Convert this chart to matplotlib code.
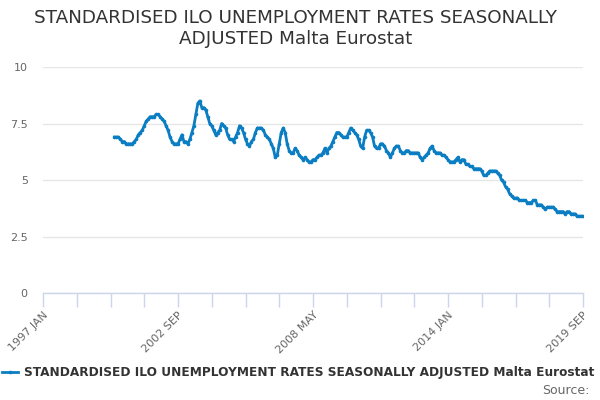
import matplotlib
matplotlib.use("Agg")
import matplotlib.pyplot as plt
from matplotlib.lines import Line2D
import numpy as np

title = "STANDARDISED ILO UNEMPLOYMENT RATES SEASONALLY\nADJUSTED Malta Eurostat"
series_name = "STANDARDISED ILO UNEMPLOYMENT RATES SEASONALLY ADJUSTED Malta Eurostat"

# monthly values, 2000 JAN .. 2019 SEP
v2000 = [6.9, 6.9, 6.9, 6.8, 6.7, 6.7, 6.6, 6.6, 6.6, 6.6, 6.7, 6.8]
v2001 = [7.0, 7.1, 7.2, 7.4, 7.6, 7.7, 7.8, 7.8, 7.8, 7.9, 7.9, 7.8]
v2002 = [7.7, 7.6, 7.4, 7.2, 6.9, 6.7, 6.6, 6.6, 6.6, 6.8, 7.0, 6.7]
v2003 = [6.7, 6.6, 6.8, 7.1, 7.4, 7.9, 8.4, 8.5, 8.2, 8.2, 8.1, 7.8]
v2004 = [7.5, 7.4, 7.2, 7.0, 7.1, 7.2, 7.5, 7.4, 7.3, 7.0, 6.8, 6.8]
v2005 = [6.7, 6.9, 7.1, 7.4, 7.3, 7.1, 6.8, 6.6, 6.5, 6.7, 6.8, 7.1]
v2006 = [7.3, 7.3, 7.3, 7.2, 7.0, 6.9, 6.8, 6.6, 6.4, 6.0, 6.1, 6.6]
v2007 = [7.1, 7.3, 7.1, 6.6, 6.3, 6.2, 6.2, 6.4, 6.3, 6.1, 6.0, 5.9]
v2008 = [6.0, 5.9, 5.8, 5.8, 5.9, 5.9, 6.0, 6.1, 6.1, 6.2, 6.4, 6.2]
v2009 = [6.4, 6.5, 6.7, 6.9, 7.1, 7.1, 7.0, 6.9, 6.9, 6.9, 7.1, 7.3]
v2010 = [7.2, 7.1, 7.0, 6.8, 6.5, 6.4, 6.9, 7.2, 7.2, 7.1, 6.9, 6.5]
v2011 = [6.4, 6.4, 6.6, 6.6, 6.5, 6.3, 6.2, 6.0, 6.2, 6.4, 6.5, 6.5]
v2012 = [6.3, 6.2, 6.2, 6.3, 6.3, 6.2, 6.2, 6.2, 6.2, 6.2, 6.0, 5.9]
v2013 = [6.0, 6.1, 6.2, 6.4, 6.5, 6.3, 6.2, 6.2, 6.2, 6.1, 6.1, 6.0]
v2014 = [5.9, 5.8, 5.8, 5.8, 5.9, 6.0, 5.8, 5.9, 5.9, 5.7, 5.7, 5.6]
v2015 = [5.6, 5.5, 5.5, 5.5, 5.5, 5.4, 5.2, 5.2, 5.3, 5.4, 5.4, 5.4]
v2016 = [5.4, 5.3, 5.2, 5.0, 4.9, 4.7, 4.6, 4.4, 4.3, 4.2, 4.2, 4.2]
v2017 = [4.1, 4.1, 4.1, 4.1, 4.0, 4.0, 4.0, 4.1, 4.1, 3.9, 3.9, 3.9]
v2018 = [3.8, 3.7, 3.8, 3.8, 3.8, 3.8, 3.7, 3.6, 3.6, 3.6, 3.6, 3.5]
v2019 = [3.6, 3.6, 3.5, 3.5, 3.5, 3.4, 3.4, 3.4, 3.4]

values = (v2000 + v2001 + v2002 + v2003 + v2004 + v2005 + v2006 + v2007 +
          v2008 + v2009 + v2010 + v2011 + v2012 + v2013 + v2014 + v2015 +
          v2016 + v2017 + v2018 + v2019)

axis_start = (1997, 1)
data_start = (2000, 1)
tick_labels = ["1997 JAN", "2002 SEP", "2008 MAY", "2014 JAN", "2019 SEP"]
y_ticks = [0, 2.5, 5, 7.5, 10]
y_tick_labels = ["0", "2.5", "5", "7.5", "10"]

def month_index(y, m):
    return (y - axis_start[0]) * 12 + (m - axis_start[1])

mon_names = ["JAN", "FEB", "MAR", "APR", "MAY", "JUN", "JUL", "AUG", "SEP", "OCT", "NOV", "DEC"]
def parse(lbl):
    y, m = lbl.split()
    return month_index(int(y), mon_names.index(m) + 1)

x0 = month_index(*data_start)
xs = np.arange(x0, x0 + len(values))

fig = plt.figure(figsize=(6, 4), dpi=100)
ax = fig.add_axes([43/600, 1 - 293/400, 540/600, (293 - 67)/400])

line_color = "#0b7dc3"
ax.plot(xs, values, color=line_color, lw=2, marker="o", ms=2.6, mew=0, zorder=3)

ax.set_ylim(0, 10)
ax.set_yticks(y_ticks)
ax.set_yticklabels(y_tick_labels)
major = [parse(l) for l in tick_labels]
ax.set_xlim(major[0], major[-1])
ax.set_xticks(major)
ax.set_xticklabels(tick_labels, rotation=45, ha="right", rotation_mode="anchor")
step = (major[1] - major[0]) / 4
ax.set_xticks(np.arange(major[0], major[-1] + 0.1, step), minor=True)

ax.grid(axis="y", color="#e6e6e6", lw=1)
ax.set_axisbelow(True)
for s in ["top", "right", "left"]:
    ax.spines[s].set_visible(False)
ax.spines["bottom"].set_color("#ccd6eb")
ax.spines["bottom"].set_linewidth(1)
ax.tick_params(axis="y", length=0, labelsize=8, labelcolor="#666666", pad=11)
ax.tick_params(axis="x", which="both", length=10, color="#ccd6eb", width=1,
               labelsize=8, labelcolor="#666666", pad=2)
ax.tick_params(axis="x", which="minor", labelbottom=False)

fig.text(0.492, 0.977, title, ha="center", va="top", fontsize=13.2,
         color="#333333", linespacing=1.2)

handle = Line2D([], [], color=line_color, lw=2, marker="o", ms=2.6, mew=0)
fig.legend([handle], [series_name], loc="center", bbox_to_anchor=(0.497, 0.068),
           frameon=False, handlelength=1.3, handletextpad=0.5,
           prop={"weight": "bold", "size": 8.75}, labelcolor="#333333")
fig.text(0.982, 0.025, "Source:", ha="right", va="center", fontsize=9, color="#666666")

fig.savefig("out.png", dpi=100)
